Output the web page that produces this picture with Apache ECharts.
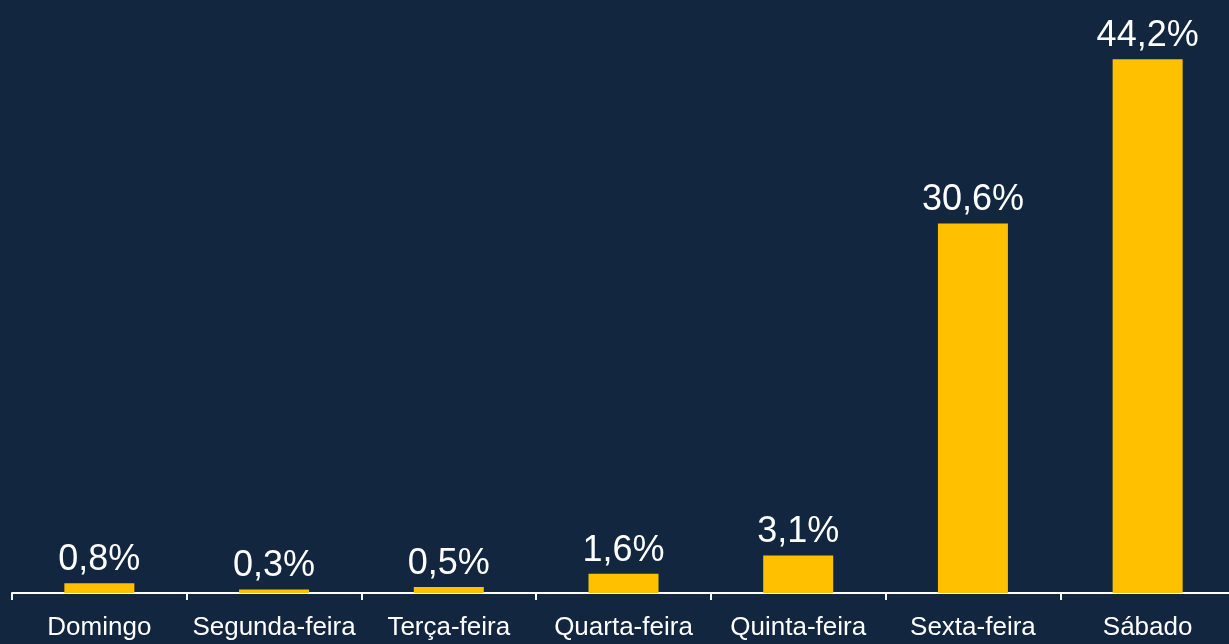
<!DOCTYPE html>
<html lang="pt-br">
<head>
    <meta charset="UTF-8">
    <title>Dia da semana</title>
    <script src="https://cdn.jsdelivr.net/npm/echarts@6/dist/echarts.min.js"></script>
    <style>
        html, body { margin: 0; padding: 0; background: #12263f; }
        #main { width: 1229px; height: 644px; }
    </style>
</head>
<body>
    <div id="main"></div>
    <script>
        var dias = ['Domingo', 'Segunda-feira', 'Terça-feira', 'Quarta-feira', 'Quinta-feira', 'Sexta-feira', 'Sábado'];
        var valores = [0.8, 0.3, 0.5, 1.6, 3.1, 30.6, 44.2];

        var myChart = echarts.init(document.getElementById('main'));
        var option = {
            backgroundColor: '#12263f',
            animation: false,
            grid: {
                left: 12,
                top: 0,
                width: 1223,
                height: 593,
                outerBoundsMode: 'none',
                containLabel: false
            },
            xAxis: {
                type: 'category',
                data: dias,
                axisLine: { show: true, lineStyle: { color: '#ffffff', width: 2 } },
                axisTick: { show: true, length: 7, lineStyle: { color: '#ffffff', width: 2 } },
                axisLabel: {
                    color: '#ffffff',
                    fontFamily: 'Arial, Liberation Sans, sans-serif',
                    fontSize: 26,
                    margin: 22,
                    interval: 0
                }
            },
            yAxis: {
                type: 'value',
                min: 0,
                max: 49.1,
                show: false,
                splitLine: { show: false }
            },
            series: [{
                type: 'bar',
                data: valores,
                barWidth: 70,
                itemStyle: { color: '#ffc000' },
                label: {
                    show: true,
                    position: 'top',
                    distance: 5,
                    color: '#ffffff',
                    fontFamily: 'Arial, Liberation Sans, sans-serif',
                    fontSize: 36,
                    formatter: function (p) {
                        return p.value.toFixed(1).replace('.', ',') + '%';
                    }
                }
            }]
        };
        myChart.setOption(option);
    </script>
</body>
</html>
